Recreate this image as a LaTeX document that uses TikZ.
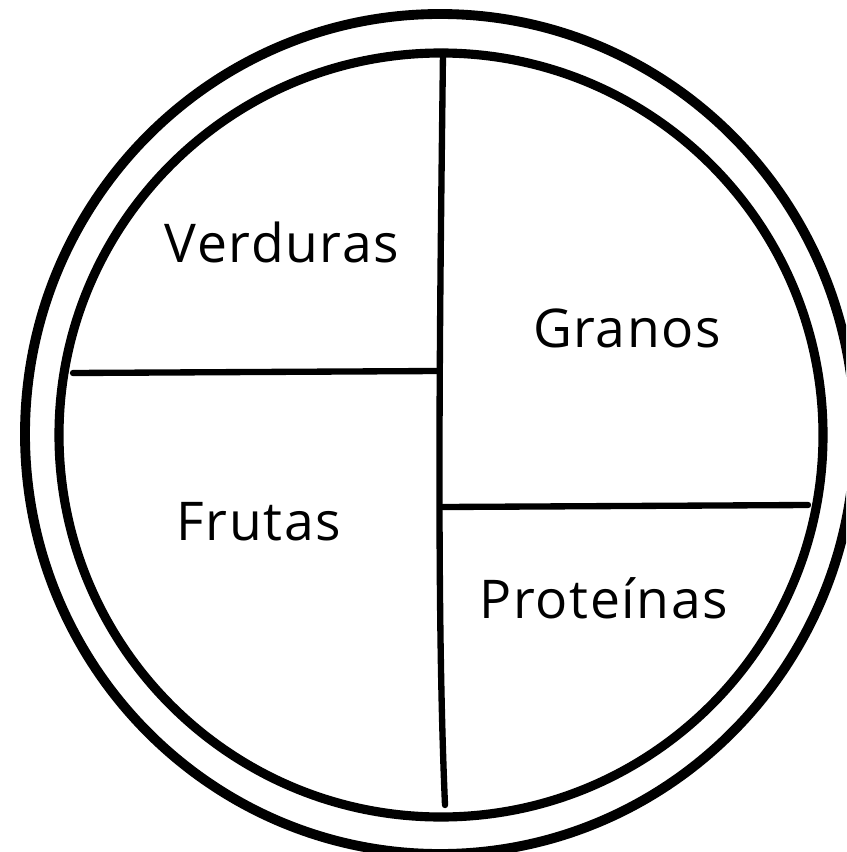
\documentclass[tikz,border=0pt]{standalone}
\usepackage{fontspec}
\setmainfont[LetterSpace=3]{Open Sans}
\begin{document}
\begin{tikzpicture}[x=0.025cm, y=-0.025cm,
                rim/.style={line width=7pt, line cap=round},
                divider/.style={line width=4.5pt, line cap=round},
                food/.style={anchor=base, inner sep=0pt, font=\fontsize{38}{44}\selectfont}]
                \useasboundingbox (0,0) rectangle (846,852);
                \clip (0,0) rectangle (846,852);

                % Draw plate centre and divider ends
                \coordinate (plate) at (441,435);
                \coordinate (rimc) at (440,434);
                \coordinate (vtop) at (443,52);
                \coordinate (vbot) at (445,805);
                \coordinate (hl1) at (73,373);
                \coordinate (hl2) at (438,371);
                \coordinate (hr1) at (443,507);
                \coordinate (hr2) at (808,505);

                % Draw the rim of the plate
                \draw[rim] (rimc) ellipse [x radius=415, y radius=420];
                \draw[rim, line width=6.5pt] (plate) circle [radius=382];

                % Draw the dividers
                \draw[divider] (vtop) .. controls (440,300) and (436,600) .. (vbot);
                \draw[divider] (hl1) -- (hl2);
                \draw[divider] (hr1) -- (hr2);

                % Draw the food groups
                \node[food] (verduras) at (282,263) {Verduras};
                \node[food] (granos) at (627,347) {Granos};
                \node[food] (frutas) at (259,540) {Frutas};
                \node[food] (proteinas) at (604,618) {Proteínas};
\end{tikzpicture}
\end{document}
